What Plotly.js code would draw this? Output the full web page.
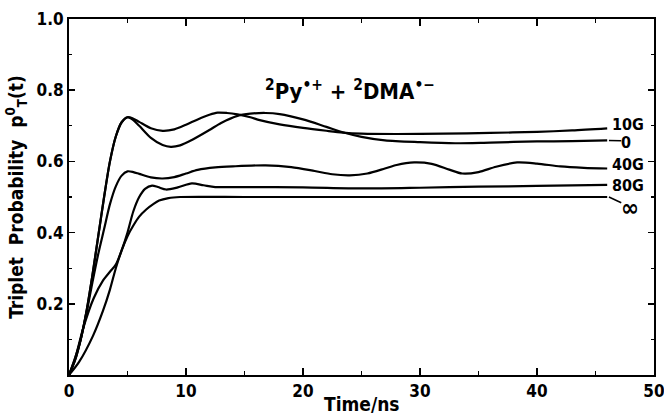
<!DOCTYPE html>
<html>
<head>
<meta charset="utf-8">
<script src="https://cdn.plot.ly/plotly-3.0.1.min.js"></script>
<style>html,body{margin:0;padding:0;background:#fff;}#chart{width:664px;height:418px;}</style>
</head>
<body>
<div id="chart"></div>
<script>
// Time (ns) and triplet probability for each field strength
const t10G = [0,0.5,1,1.5,2,2.5,3,3.5,4,4.5,5,5.5,6,7,8,9,10,11,12,12.7,13.5,14.4,15.5,16.3,18,20,22,23.4,25,28,32,36,40,43,46];
const p10G = [0,0.04,0.1,0.18,0.28,0.39,0.5,0.6,0.67,0.71,0.724,0.72,0.711,0.693,0.686,0.69,0.703,0.718,0.731,0.737,0.736,0.732,0.724,0.716,0.704,0.694,0.686,0.681,0.678,0.677,0.678,0.68,0.683,0.687,0.693];

const t0 = [0,0.5,1,1.5,2,2.5,3,3.5,4,4.5,5,5.5,6,7,8,8.7,9.5,10.5,12,13,14.4,15.5,16.8,18,20,22,23.4,25,27,30,33,36,40,43,46];
const p0 = [0,0.04,0.1,0.18,0.28,0.39,0.5,0.6,0.67,0.71,0.724,0.716,0.70,0.666,0.646,0.641,0.645,0.66,0.688,0.708,0.728,0.734,0.736,0.733,0.718,0.697,0.682,0.669,0.659,0.654,0.651,0.653,0.656,0.657,0.659];

const t40G = [0,0.5,1,1.5,2,2.5,3,3.5,4,4.5,5,5.5,6,7,8,9,10,11,12.5,14,16.8,19,21,22.5,24,25.5,27,28,29.5,31,32.5,33.6,35,36.5,38.3,40,42,44,46];
const p40G = [0,0.045,0.1,0.175,0.26,0.34,0.41,0.48,0.53,0.56,0.572,0.57,0.565,0.555,0.552,0.556,0.566,0.576,0.583,0.586,0.589,0.584,0.573,0.564,0.561,0.566,0.58,0.59,0.597,0.593,0.577,0.566,0.57,0.585,0.597,0.594,0.586,0.582,0.58];

const t80G = [0,0.6,1.2,2.1,2.9,3.5,4,4.5,5,5.5,6,6.5,7.1,7.6,8.3,9.3,10.5,11.5,12.5,15,20,25,30,35,40,46];
const p80G = [0,0.056,0.13,0.215,0.265,0.29,0.31,0.35,0.40,0.46,0.50,0.523,0.532,0.528,0.521,0.527,0.538,0.533,0.528,0.528,0.527,0.524,0.526,0.529,0.531,0.534];

const tInf = [0,0.85,2.05,2.9,3.5,4,4.5,5,5.5,6,6.6,7.2,7.7,8.5,9.5,15,20,30,40,46];
const pInf = [0,0.036,0.11,0.18,0.24,0.30,0.35,0.39,0.42,0.445,0.465,0.48,0.49,0.497,0.5,0.5,0.5,0.5,0.5,0.5];

const curveLabels = ["10G", "0", "40G", "80G", "\u221e"];
// label anchor positions (data units) for the curve labels
const labelX = [46.35, 47.1, 46.35, 46.35, 47.1];
const labelY = [0.703, 0.652, 0.592, 0.532, 0.468];
const xTicks = [0,10,20,30,40,50];
const yTicks = [0.2,0.4,0.6,0.8,1.0];
const yTickText = ["0.2","0.4","0.6","0.8","1.0"];

const FONT = "DejaVu Sans Condensed, Liberation Sans Narrow, DejaVu Sans, sans-serif";
const series = [[t10G,p10G],[t0,p0],[t40G,p40G],[t80G,p80G],[tInf,pInf]];
const traces = series.map((s,i) => ({
  x: s[0], y: s[1], type: 'scatter', mode: 'lines', name: curveLabels[i],
  line: {color: '#000', width: 2.2, shape: 'spline', smoothing: 0.8},
  hoverinfo: 'skip'
}));

function endOf(i){ const s = series[i]; return [s[0][s[0].length-1], s[1][s[1].length-1]]; }
const annotations = curveLabels.map((lab,i) => ({
  x: labelX[i], y: labelY[i], xref: 'x', yref: 'y', showarrow: false,
  text: '<b>'+lab+'</b>', xanchor: 'left', yanchor: 'middle', borderpad: 0,
  font: {family: FONT, size: i===4 ? 24 : 16, color: '#000'}
}));
annotations.push({
  x: 24, y: 0.8, xref: 'x', yref: 'y', showarrow: false,
  text: '<b><sup>2</sup>Py<sup>\u2022+</sup> + <sup>2</sup>DMA<sup>\u2022\u2212</sup></b>',
  font: {family: FONT, size: 22, color: '#000'}
});
annotations.push({
  x: 0.5, y: -0.082, xref: 'paper', yref: 'paper', showarrow: false, yanchor: 'middle',
  text: '<b>Time/ns</b>', font: {family: FONT, size: 19, color: '#000'}
});
// leader lines from curve ends to the "0" and "∞" labels
const shapes = [1,4].map(i => {
  const e = endOf(i);
  return {type: 'line', xref: 'x', yref: 'y', x0: e[0]+0.15, y0: e[1], x1: labelX[i]+0.1, y1: labelY[i] + (i===4 ? 0.016 : 0.006),
          line: {color: '#000', width: 1.5}};
});

const layout = {
  width: 664, height: 418,
  margin: {l: 69, r: 10, t: 19, b: 43},
  paper_bgcolor: '#fff', plot_bgcolor: '#fff',
  showlegend: false,
  font: {family: FONT, color: '#000'},
  xaxis: {
    range: [0,50], tickvals: xTicks, ticks: 'inside', ticklen: 7, tickwidth: 1.5, tickcolor: '#000',
    showline: true, linecolor: '#000', linewidth: 2, mirror: 'ticks', showgrid: false, zeroline: false,
    ticklabeloverflow: 'allow',
    minor: {dtick: 5, tick0: 0, ticks: 'inside', ticklen: 4, tickwidth: 1.2, tickcolor: '#000', showgrid: false},
    tickfont: {family: FONT, size: 17, color: '#000', weight: 'bold'}
  },
  yaxis: {
    range: [0,1], tickvals: yTicks, ticktext: yTickText, ticks: 'inside', ticklen: 6, tickwidth: 1.5, tickcolor: '#000',
    showline: true, linecolor: '#000', linewidth: 2, mirror: 'ticks', showgrid: false, zeroline: false,
    ticklabeloverflow: 'allow',
    minor: {dtick: 0.1, tick0: 0, ticks: 'inside', ticklen: 3, tickwidth: 1.2, tickcolor: '#000', showgrid: false},
    tickfont: {family: FONT, size: 17, color: '#000', weight: 'bold'},
    title: {text: '<b>Triplet  Probability  p<sup>0</sup><sub>T</sub>(t)</b>', font: {family: FONT, size: 19, color: '#000'}, standoff: 8}
  },
  annotations: annotations,
  shapes: shapes
};
Plotly.newPlot('chart', traces, layout, {staticPlot: true});
</script>
</body>
</html>
